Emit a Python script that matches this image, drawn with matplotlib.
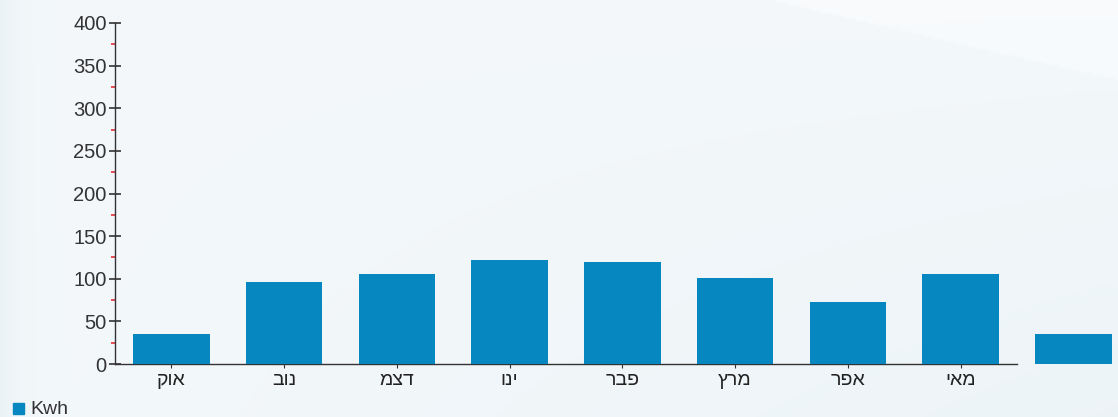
import matplotlib
matplotlib.use("Agg")
import matplotlib.pyplot as plt
import numpy as np

# data
months = ["אוק", "נוב", "דצמ", "ינו", "פבר", "מרץ", "אפר", "מאי", ""]
kwh = [35, 96, 106, 122, 120, 101, 73, 106, 35]
y_ticks = [0, 50, 100, 150, 200, 250, 300, 350, 400]
y_minor = [25, 75, 125, 175, 225, 275, 325, 375]

bar_color = "#0787c0"
axis_color = "#333333"

plt.rcParams["font.family"] = ["Liberation Sans", "DejaVu Sans"]

fig = plt.figure(figsize=(11.18, 4.17), dpi=100)

# soft background gradient with a lighter band at the top right
bg = fig.add_axes([0, 0, 1, 1], zorder=-10)
gx = np.linspace(0, 1, 400)
gy = np.linspace(0, 1, 160)
X, Y = np.meshgrid(gx, gy)  # Y = 0 at top
shade = 0.4 + 0.5 * np.exp(-X / 0.015) + 0.35 * X * Y
band = Y < (X - 0.695) / 0.305 * 0.19
shade = np.where(band, shade * 0.4, shade)
base = np.array([0.985, 0.99, 0.997])
dark = np.array([0.91, 0.945, 0.96])
w = np.clip(shade, 0, 1)[..., None]
img = base * (1 - w) + dark * w
bg.imshow(img, aspect="auto", extent=[0, 1, 0, 1], origin="upper",
          interpolation="bilinear")
bg.axis("off")

ax = fig.add_axes([115 / 1118, 53 / 417, 902 / 1118, 341 / 417])
ax.patch.set_alpha(0)

x = np.arange(len(months))
ax.bar(x, kwh, width=0.68, color=bar_color, linewidth=0,
       clip_on=False, zorder=3)

ax.set_xlim(-0.5, 7.5)
ax.set_ylim(0, 400)

# the reference draws the Hebrew letters in stored order, left to right
ax.set_xticks(x[:8])
ax.set_xticklabels([m[::-1] for m in months[:8]], fontsize=14, color="#222222")
ax.tick_params(axis="x", direction="out", length=3, width=0.8,
               color=axis_color, pad=3)

ax.set_yticks(y_ticks)
ax.set_yticklabels([str(v) for v in y_ticks], fontsize=14.5, color="#333333")
ax.tick_params(axis="y", direction="inout", length=8, width=1.2,
               color=axis_color, pad=2)
ax.set_yticks(y_minor, minor=True)
ax.tick_params(axis="y", which="minor", direction="out", length=3,
               width=1.2, color="#e8303a")

for side in ["top", "right"]:
    ax.spines[side].set_visible(False)
for side in ["left", "bottom"]:
    ax.spines[side].set_color(axis_color)
    ax.spines[side].set_linewidth(1.0)

# legend at the bottom-left corner
fig.patches.append(plt.Rectangle((13 / 1118, 3 / 417), 11 / 1118, 11 / 417,
                                 transform=fig.transFigure, color=bar_color))
fig.text(30 / 1118, 3 / 417, "Kwh", fontsize=14, color="#333333",
         ha="left", va="baseline")

fig.savefig("out.png", dpi=100)
